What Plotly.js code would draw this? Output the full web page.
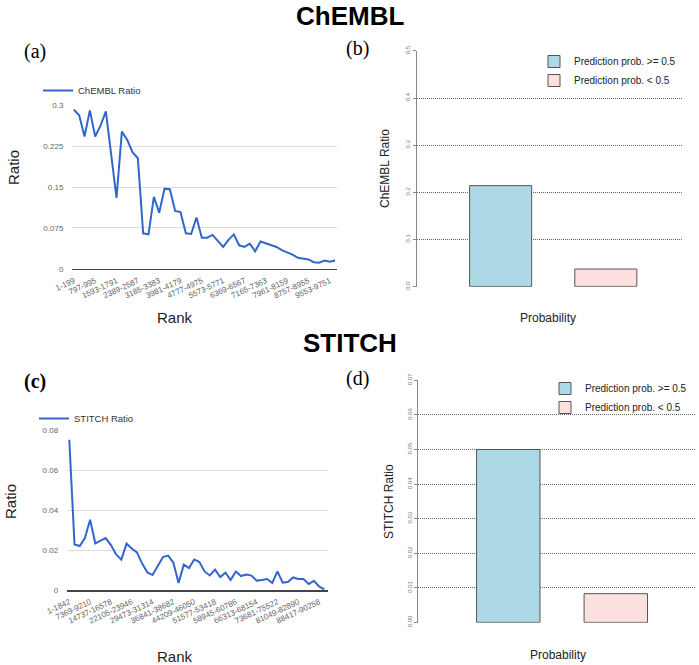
<!DOCTYPE html>
<html>
<head>
<meta charset="utf-8">
<script src="https://cdn.plot.ly/plotly-3.0.1.min.js"></script>
<style>
  html, body { margin: 0; padding: 0; background: #fff; }
  #chart { width: 699px; height: 665px; }
</style>
</head>
<body>
<div id="chart"></div>
<script>
'use strict';

// ratio per rank bin (a) and (c)
const chemblRatio = [0.292, 0.282, 0.243, 0.291, 0.243, 0.263, 0.289, 0.210, 0.130, 0.252,
  0.237, 0.214, 0.203, 0.065, 0.063, 0.132, 0.103, 0.147, 0.146, 0.106,
  0.104, 0.065, 0.064, 0.094, 0.057, 0.057, 0.062, 0.051, 0.040, 0.053,
  0.063, 0.043, 0.040, 0.046, 0.032, 0.050, 0.047, 0.043, 0.040, 0.034,
  0.030, 0.026, 0.020, 0.019, 0.017, 0.012, 0.011, 0.015, 0.013, 0.015];

const stitchRatio = [0.0752, 0.0228, 0.0220, 0.0260, 0.0352, 0.0233, 0.0247, 0.0260, 0.0225, 0.0178,
  0.0152, 0.0232, 0.0208, 0.0188, 0.0132, 0.0088, 0.0075, 0.0123, 0.0165, 0.0172,
  0.0137, 0.0035, 0.0127, 0.0110, 0.0153, 0.0140, 0.0093, 0.0073, 0.0102, 0.0065,
  0.0087, 0.0050, 0.0093, 0.0070, 0.0077, 0.0072, 0.0047, 0.0050, 0.0055, 0.0035,
  0.0093, 0.0037, 0.0040, 0.0063, 0.0055, 0.0055, 0.0030, 0.0046, 0.0018, 0.0003];

const chemblTicks = ['1-199', '797-995', '1593-1791', '2389-2587', '3185-3383', '3981-4179',
  '4777-4975', '5573-5771', '6369-6567', '7165-7363', '7961-8159', '8757-8955', '9553-9751'];

const stitchTicks = ['1-1842', '7369-9210', '14737-16578', '22105-23946', '29473-31314',
  '36841-38682', '44209-46050', '51577-53418', '58945-60786', '66313-68154',
  '73681-75522', '81049-82890', '88417-90258'];

// panels (b) and (d)
const probGroups = ['Prediction prob. >= 0.5', 'Prediction prob. < 0.5'];
const chemblProb = [0.214, 0.037];
const stitchProb = [0.050, 0.0083];
const barColors = ['#add8e6', '#fbe0dd'];

const W = 699, H = 665;
const px = (v) => v / W;
const py = (v) => (H - v) / H;

const lineIndex = [];
for (let i = 0; i < chemblRatio.length; i += 1) {
  lineIndex.push(i);
}
const tickIndex = [];
for (let i = 0; i < chemblTicks.length; i += 1) {
  tickIndex.push(i * 4);
}

const data = [
  {
    x: lineIndex, y: chemblRatio, type: 'scatter', mode: 'lines',
    name: 'ChEMBL Ratio', xaxis: 'x', yaxis: 'y', legend: 'legend', showlegend: true,
    line: { color: '#3366cc', width: 2 }
  },
  {
    x: lineIndex, y: stitchRatio, type: 'scatter', mode: 'lines',
    name: 'STITCH Ratio', xaxis: 'x3', yaxis: 'y3', legend: 'legend3', showlegend: true,
    line: { color: '#3366cc', width: 2 }
  }
];

probGroups.forEach((g, i) => {
  data.push({
    x: [g], y: [chemblProb[i]], type: 'bar', name: g, width: 0.59,
    xaxis: 'x2', yaxis: 'y2', legend: 'legend2', showlegend: true,
    marker: { color: barColors[i], line: { color: '#555', width: 1 } }
  });
  data.push({
    x: [g], y: [stitchProb[i]], type: 'bar', name: g, width: 0.59,
    xaxis: 'x4', yaxis: 'y4', legend: 'legend4', showlegend: true,
    marker: { color: barColors[i], line: { color: '#555', width: 1 } }
  });
});

const lineX = {
  tickmode: 'array', tickvals: tickIndex, tickangle: -25,
  tickfont: { size: 8, color: '#666' },
  ticks: 'outside', ticklen: 3, tickcolor: 'rgba(0,0,0,0)',
  showgrid: false, zeroline: false,
  showline: true, linecolor: '#444', linewidth: 1.5
};
const lineY = {
  tickfont: { size: 8, color: '#666' },
  ticks: 'outside', ticklen: 6, tickcolor: 'rgba(0,0,0,0)',
  gridcolor: '#dcdcdc', zeroline: false, showline: false
};
const barX = {
  type: 'category', showticklabels: false, showgrid: false,
  zeroline: false, showline: false, ticks: ''
};
const barY = {
  tickangle: -90, tickfont: { size: 6, color: '#777' },
  ticks: 'outside', ticklen: 3, tickcolor: '#888',
  griddash: '1px,1px', gridcolor: '#666', gridwidth: 1,
  zeroline: false, showline: true, linecolor: '#888', linewidth: 1
};

const legendBase = {
  bgcolor: 'rgba(0,0,0,0)', xanchor: 'left', yanchor: 'top',
  itemclick: false, itemdoubleclick: false
};

const axisTitle = (text, x, y, size, angle) => ({
  text: text, x: px(x), y: py(y), xref: 'paper', yref: 'paper',
  xanchor: 'center', yanchor: 'middle', showarrow: false,
  textangle: angle || 0, font: { size: size, color: '#222' }
});

const layout = {
  width: W,
  height: H,
  margin: { t: 0, l: 0, r: 0, b: 0 },
  paper_bgcolor: '#fff',
  plot_bgcolor: 'rgba(0,0,0,0)',
  font: { family: 'Liberation Sans, Arial, sans-serif' },
  showlegend: true,
  barmode: 'overlay',
  xaxis: Object.assign({}, lineX, {
    domain: [px(72), px(337)], anchor: 'y', range: [-0.35, 49.35], ticktext: chemblTicks
  }),
  yaxis: Object.assign({}, lineY, {
    domain: [py(268.7), py(105.3)], anchor: 'x', range: [0, 0.3003],
    tickmode: 'linear', tick0: 0, dtick: 0.075
  }),
  xaxis2: Object.assign({}, barX, {
    domain: [px(416.7), px(683)], anchor: 'y2', range: [-0.798, 1.734]
  }),
  yaxis2: Object.assign({}, barY, {
    domain: [py(286.7), py(50.7)], anchor: 'x2', range: [-0.0006, 0.5006],
    tickmode: 'linear', tick0: 0, dtick: 0.1, tickformat: '.1f'
  }),
  xaxis3: Object.assign({}, lineX, {
    domain: [px(66.7), px(328.3)], anchor: 'y3', range: [-0.5, 49.77], ticktext: stitchTicks
  }),
  yaxis3: Object.assign({}, lineY, {
    domain: [py(590), py(430)], anchor: 'x3', range: [0, 0.0801],
    tickmode: 'linear', tick0: 0, dtick: 0.02
  }),
  xaxis4: Object.assign({}, barX, {
    domain: [px(418.3), px(696)], anchor: 'y4', range: [-0.837, 1.746]
  }),
  yaxis4: Object.assign({}, barY, {
    domain: [py(622.7), py(380)], anchor: 'x4', range: [-0.0001, 0.0701],
    tickmode: 'linear', tick0: 0, dtick: 0.01, tickformat: '.2f'
  }),
  legend: Object.assign({}, legendBase, {
    x: px(38), y: py(76), font: { size: 9.5, color: '#333' }
  }),
  legend2: Object.assign({}, legendBase, {
    x: px(534), y: py(47), font: { size: 10, color: '#222' }
  }),
  legend3: Object.assign({}, legendBase, {
    x: px(34), y: py(404), font: { size: 9.5, color: '#333' }
  }),
  legend4: Object.assign({}, legendBase, {
    x: px(545), y: py(374), font: { size: 10, color: '#222' }
  }),
  annotations: [
    {
      text: '<b>ChEMBL</b>', x: 0.5, y: py(16), xref: 'paper', yref: 'paper',
      xanchor: 'center', yanchor: 'middle', showarrow: false,
      font: { size: 26, color: '#000' }
    },
    {
      text: '<b>STITCH</b>', x: 0.5, y: py(343), xref: 'paper', yref: 'paper',
      xanchor: 'center', yanchor: 'middle', showarrow: false,
      font: { size: 26, color: '#000' }
    },
    {
      text: '(a)', x: px(22), y: py(52), xref: 'paper', yref: 'paper',
      xanchor: 'left', yanchor: 'middle', showarrow: false,
      font: { family: 'Liberation Serif, Times New Roman, serif', size: 20, color: '#000' }
    },
    {
      text: '(b)', x: px(344), y: py(48), xref: 'paper', yref: 'paper',
      xanchor: 'left', yanchor: 'middle', showarrow: false,
      font: { family: 'Liberation Serif, Times New Roman, serif', size: 20, color: '#000' }
    },
    {
      text: '<b>(c)</b>', x: px(22), y: py(382), xref: 'paper', yref: 'paper',
      xanchor: 'left', yanchor: 'middle', showarrow: false,
      font: { family: 'Liberation Serif, Times New Roman, serif', size: 20, color: '#000' }
    },
    {
      text: '(d)', x: px(344), y: py(378), xref: 'paper', yref: 'paper',
      xanchor: 'left', yanchor: 'middle', showarrow: false,
      font: { family: 'Liberation Serif, Times New Roman, serif', size: 20, color: '#000' }
    },
    axisTitle('Ratio', 13, 168, 15, -90),
    axisTitle('Rank', 175, 317, 15),
    axisTitle('ChEMBL Ratio', 385, 168, 12, -90),
    axisTitle('Probability', 548, 318, 12),
    axisTitle('Ratio', 11, 502, 15, -90),
    axisTitle('Rank', 175, 656, 15),
    axisTitle('STITCH Ratio', 389, 502, 12, -90),
    axisTitle('Probability', 558, 655, 12)
  ]
};

Plotly.newPlot('chart', data, layout, { displayModeBar: false, staticPlot: true });
</script>
</body>
</html>
